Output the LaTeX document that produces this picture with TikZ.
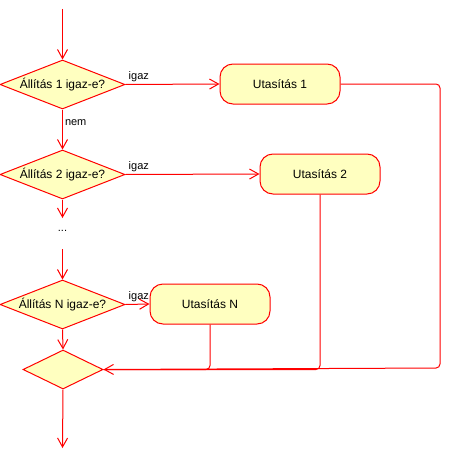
\documentclass[tikz,border=0pt]{standalone}
\usepackage{fontspec}
\setmainfont{Liberation Sans}
\usetikzlibrary{shapes.geometric,arrows.meta}
\definecolor{boxfill}{HTML}{FFFFC0}
\definecolor{boxline}{HTML}{FF0000}
\begin{document}
\begin{tikzpicture}[x=1pt, y=-1pt,
    cond/.style={diamond, draw=boxline, fill=boxfill, line width=1pt, aspect=2.5, inner sep=0pt,
        minimum width=125pt, minimum height=49pt, font=\fontsize{12}{14}\selectfont},
    stmt/.style={rectangle, rounded corners=13pt, draw=boxline, fill=boxfill, line width=1pt,
        minimum width=120pt, minimum height=40pt, font=\fontsize{12}{14}\selectfont},
    lbl/.style={inner sep=1pt, font=\fontsize{11}{13}\selectfont},
    arr/.style={draw=boxline, line width=1pt, -{Straight Barb[length=9pt, width=10pt]}},
    wire/.style={draw=boxline, line width=1pt, rounded corners=4pt}]
    \useasboundingbox (0,0) rectangle (451,460);
    % Conditions and statements
    \node[cond] (d1) at (62.5,84.5) {Állítás 1 igaz-e?};
    \node[cond] (d2) at (62.5,174.5) {Állítás 2 igaz-e?};
    \node[cond] (dN) at (62.5,304.5) {Állítás N igaz-e?};
    \node[cond, minimum width=80pt, minimum height=39pt] (end) at (63,369.5) {};
    \node[stmt] (u1) at (280,84) {Utasítás 1};
    \node[stmt] (u2) at (320,174) {Utasítás 2};
    \node[stmt] (uN) at (210,304) {Utasítás N};
    \node[lbl] (dots) at (62.5,231) {...};
    % Free ends
    \coordinate (start) at (62.5,9); \coordinate (gap1) at (62.5,218);
    \coordinate (gap2) at (62.5,249); \coordinate (stop) at (62.5,448);
    \coordinate (corner) at (440,368);
    % Main flow
    \draw[arr] (start) -- (d1.north);
    \draw[arr] (d1.south) -- node[lbl, anchor=west, pos=0.32, xshift=1pt] (nem) {nem} (d2.north);
    \draw[arr] (d2.south) -- (gap1);
    \draw[arr] (gap2) -- (dN.north);
    \draw[arr] (dN.south) -- (end.north);
    \draw[arr] (end.south) -- (stop);
    \foreach \i in {1,2,N} {
        \draw[arr] (d\i.east) -- (u\i.west);
        \node[lbl, anchor=south west, inner sep=3pt] (igaz\i) at (d\i.east) {igaz};
    }
    % Back to the join
    \draw[wire] (uN.south) |- (end.east);
    \draw[wire] (u2.south) |- (end.east);
    \draw[wire, arr] (u1.east) -| (corner) -- (end.east);
\end{tikzpicture}
\end{document}
